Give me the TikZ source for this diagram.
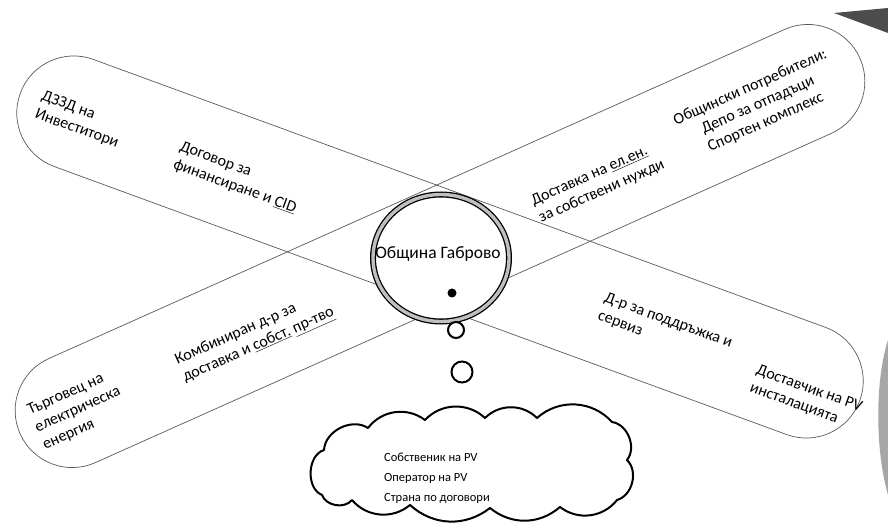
\documentclass[tikz,border=0pt]{standalone}
\usepackage{fontspec}
\setmainfont{Carlito}
\usetikzlibrary{shapes.geometric,positioning}

\begin{document}
\begin{tikzpicture}[x=1pt,y=-1pt,
capsule/.style={rectangle, draw=black!65, line width=0.7pt, rounded corners=57pt, minimum height=114pt, inner sep=0pt},
lbl/.style={align=left, inner sep=1pt, font=\fontsize{16}{19}\selectfont},
hub/.style={ellipse, draw=black, double=gray!50, double distance=3.4pt, line width=1.3pt, fill=white, minimum width=136pt, minimum height=127pt, inner sep=0pt},
bubble/.style={circle, draw=black, line width=2pt, fill=white, inner sep=0pt},
puff/.style={draw=black, line width=2pt, fill=white, line join=round}
]
\useasboundingbox (0,0) rectangle (888,526);

% the two crossed ovals
\node[capsule, minimum width=894pt, rotate=-20.1] (capA) at (440,247) {};
\node[capsule, minimum width=920pt, rotate=24.1] (capB) at (440,246) {};

% texts along the first oval
\node[lbl, rotate=-20] (invest) at (80,120) {ДЗЗД на\\Инвеститори};
\node[lbl, rotate=-20] (finance) at (238,178) {Договор за\\финансиране и \underline{CID}};
\node[lbl, rotate=-20] (service) at (665,330) {Д-р за поддръжка и\\сервиз};
\node[lbl, rotate=-20] (supplier) at (806,398) {Доставчик на PV\\инсталацията};

% texts along the second oval
\node[lbl, rotate=24] (trader) at (78,410) {Търговец на\\електрическа\\енергия};
\node[lbl, rotate=24] (combined) at (255,337) {Комбиниран д-р за\\доставка и \underline{собст.} \underline{пр-тво}};
\node[lbl, rotate=24] (delivery) at (598,183) {Доставка на \underline{ел.ен.}\\за собствени нужди};
\node[lbl, rotate=24, align=center] (consumers) at (758,105) {Общински потребители:\\Депо за отпадъци\\Спортен комплекс};

% municipality in the middle
\node[hub] (hub) at (441,258) {};
\node[inner sep=0pt, font=\fontsize{17.5}{20}\selectfont] (hubname) at (438,254) {Община Габрово};
\node[circle, fill=black, minimum size=9pt, inner sep=0pt] (dot) at (452,293) {};
\node[bubble, minimum size=16pt] (small) at (456,330) {};
\node[bubble, minimum size=21pt] (big) at (462,372) {};

% thought cloud
\draw[puff] (322,495) to[bend left=70] (324,450) to[bend left=60] (368,428)
  to[bend left=45] (425,420) to[bend left=45] (485,418) to[bend left=45] (537,418)
  to[bend left=45] (612,422) to[bend left=60] (627,460) to[bend left=60] (617,500)
  to[bend left=45] (560,507) to[bend left=40] (490,508) to[bend left=40] (410,505)
  to[bend left=45] (352,500) to[bend left=60] cycle;
\node[align=left, inner sep=1pt, font=\fontsize{12.5}{20}\selectfont] (owner) at (437,478) {Собственик на PV\\Оператор на PV\\Страна по договори};

% scan edges
\fill[black!70] (834,13) -- (888,8) -- (888,33) -- cycle;
\fill[gray!70] (888,340) .. controls (875,380) and (875,450) .. (888,495) -- cycle;
\end{tikzpicture}
\end{document}
